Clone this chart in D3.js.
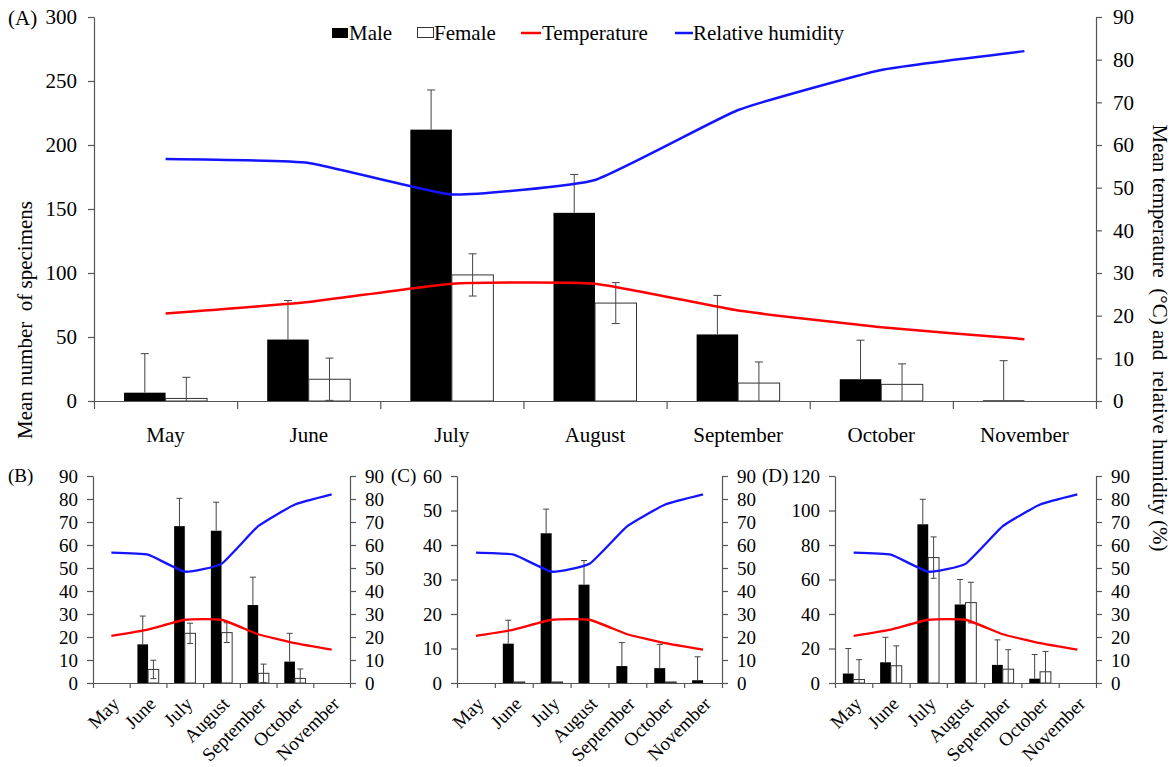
<!DOCTYPE html>
<html>
<head>
<meta charset="utf-8">
<script src="https://cdn.jsdelivr.net/npm/d3@7"></script>
<style>
  body { margin: 0; background: #fff; }
  svg text { font-family: "Liberation Serif", "Times New Roman", serif; fill: #000; }
  .axis path, .axis line { stroke: #555; stroke-width: 1.2; }
</style>
</head>
<body>
<svg id="chart" width="1176" height="767"></svg>
<script>
// months on the x axis
const months = ["May", "June", "July", "August", "September", "October", "November"];

// climate series (right axis, same in every panel)
const temperature = [20.5, 23.2, 27.5, 27.5, 21.2, 17.3, 14.5];
const humidity = [56.7, 55.8, 48.4, 51.8, 68.2, 77.6, 82.0];

// (A) all species
const maleA = [6.5, 48, 212, 147, 52, 17, 0.5];
const maleErrA = [30.5, 30.5, 31, 30, 30.5, 30.5, 31];
const femaleA = [2, 17, 98.5, 76.5, 14, 13, 0];
const femaleErrA = [16.5, 16.5, 16.5, 16, 16.5, 16, 0];

// (B)
const maleB = [0, 16.8, 68.2, 66.2, 33.9, 9.3, 0];
const maleErrB = [0, 12.3, 12.1, 12.4, 12.1, 12.3, 0];
const femaleB = [0, 5.9, 21.6, 21.9, 4.2, 2, 0];
const femaleErrB = [0, 4, 4.4, 4.3, 4, 4.1, 0];

// (C)
const maleC = [0, 11.4, 43.4, 28.5, 4.9, 4.3, 0.8];
const maleErrC = [0, 6.8, 7, 7, 6.8, 6.9, 6.8];
const femaleC = [0, 0.3, 0.3, 0, 0, 0.3, 0];
const femaleErrC = [0, 0, 0, 0, 0, 0, 0];

// (D)
const maleD = [5.5, 12, 92, 45.5, 10.5, 2.5, 0];
const maleErrD = [14.5, 14.5, 14.5, 14.5, 14.5, 14, 0];
const femaleD = [2, 10, 72.7, 46.6, 8, 6.5, 0];
const femaleErrD = [11.5, 11.5, 12, 11.8, 11.3, 11.8, 0];

const FONT = "Liberation Serif, Times New Roman, serif";
const svg = d3.select("#chart");

function drawPanel(p)
{
  const g = svg.append("g");

  const x = d3.scaleBand().domain(months).range([p.left, p.right]);
  const xIdx = d3.scaleLinear().domain([0, months.length]).range([p.left, p.right]);
  const y = d3.scaleLinear().domain([0, p.yMax]).range([p.bottom, p.top]);
  const y2 = d3.scaleLinear().domain([0, 90]).range([p.bottom, p.top]);

  const bw = x.bandwidth() * 0.29;
  const cx = (m) => x(m) + x.bandwidth() / 2;

  const rows = months.map((m, i) => ({
    m: m, male: p.male[i], maleErr: p.maleErr[i], female: p.female[i], femaleErr: p.femaleErr[i]
  }));

  // bars
  g.selectAll(".male").data(rows).join("rect")
    .attr("x", d => cx(d.m) - bw)
    .attr("y", d => y(d.male))
    .attr("width", bw)
    .attr("height", d => y(0) - y(d.male))
    .attr("fill", "#000");

  g.selectAll(".female").data(rows.filter(d => d.female > 0)).join("rect")
    .attr("x", d => cx(d.m))
    .attr("y", d => y(d.female))
    .attr("width", bw)
    .attr("height", d => y(0) - y(d.female))
    .attr("fill", "#fff")
    .attr("stroke", "#333")
    .attr("stroke-width", 1);

  // error bars (male: only the part above the black bar shows)
  const errs = [];
  rows.forEach(d => {
    if (d.maleErr > 0) errs.push({ x: cx(d.m) - bw / 2, lo: d.male, hi: d.male + d.maleErr, lowCap: false });
    if (d.femaleErr > 0) {
      const lo = Math.max(0, d.female - d.femaleErr);
      errs.push({ x: cx(d.m) + bw / 2, lo: lo, hi: d.female + d.femaleErr, lowCap: lo > 0 });
    }
  });
  const cap = p.cap;
  errs.forEach(d => {
    g.append("line").attr("x1", d.x).attr("x2", d.x)
      .attr("y1", y(d.lo)).attr("y2", y(d.hi))
      .attr("stroke", "#444").attr("stroke-width", 1);
    g.append("line").attr("x1", d.x - cap).attr("x2", d.x + cap)
      .attr("y1", y(d.hi)).attr("y2", y(d.hi))
      .attr("stroke", "#444").attr("stroke-width", 1);
    if (d.lowCap) {
      g.append("line").attr("x1", d.x - cap).attr("x2", d.x + cap)
        .attr("y1", y(d.lo)).attr("y2", y(d.lo))
        .attr("stroke", "#444").attr("stroke-width", 1);
    }
  });

  // axes
  g.append("g").attr("class", "axis")
    .attr("transform", "translate(" + p.left + ",0)")
    .call(d3.axisLeft(y).tickValues(d3.range(0, p.yMax + 1, p.yStep))
      .tickSize(6).tickSizeOuter(0).tickPadding(p.pad))
    .attr("font-family", FONT).attr("font-size", p.font);

  g.append("g").attr("class", "axis")
    .attr("transform", "translate(" + p.right + ",0)")
    .call(d3.axisRight(y2).tickValues(d3.range(0, 91, 10))
      .tickSize(6).tickSizeOuter(0).tickPadding(p.pad))
    .attr("font-family", FONT).attr("font-size", p.font);

  g.append("g").attr("class", "axis")
    .attr("transform", "translate(0," + p.bottom + ")")
    .call(d3.axisBottom(xIdx).tickValues(d3.range(0, months.length + 1))
      .tickFormat("").tickSize(p.tick).tickSizeOuter(0));

  const xl = g.append("g").attr("class", "axis")
    .attr("transform", "translate(0," + p.bottom + ")")
    .call(d3.axisBottom(x).tickSize(0).tickPadding(p.xPad))
    .attr("font-family", FONT).attr("font-size", p.xFont);
  xl.select(".domain").remove();
  if (p.rotate) {
    xl.selectAll("text")
      .attr("text-anchor", "end")
      .attr("dy", null)
      .attr("y", null)
      .attr("transform", "translate(9," + p.xPad + ") rotate(-45)");
  }

  // climate lines
  const line = d3.line()
    .x((d, i) => cx(months[i]))
    .y(d => y2(d))
    .curve(d3.curveCardinal.tension(0.6));

  g.append("path").datum(temperature)
    .attr("fill", "none").attr("stroke", "#ff0000")
    .attr("stroke-width", p.lw).attr("d", line);
  g.append("path").datum(humidity)
    .attr("fill", "none").attr("stroke", "#1414ff")
    .attr("stroke-width", p.lw).attr("d", line);

  g.append("text").attr("x", p.tagX).attr("y", p.tagY)
    .style("font-size", p.font + "px").text(p.tag);
}

drawPanel({ tag: "(A)", tagX: 8, tagY: 25, left: 94, right: 1096, top: 17, bottom: 401,
  yMax: 300, yStep: 50, male: maleA, maleErr: maleErrA, female: femaleA, femaleErr: femaleErrA,
  font: 21, xFont: 21, pad: 11, tick: 8, xPad: 26, rotate: false, lw: 2.5, cap: 4 });

drawPanel({ tag: "(B)", tagX: 8, tagY: 482, left: 93, right: 350, top: 476, bottom: 683,
  yMax: 90, yStep: 10, male: maleB, maleErr: maleErrB, female: femaleB, femaleErr: femaleErrB,
  font: 19, xFont: 19, pad: 9, tick: 5, xPad: 22, rotate: true, lw: 2.3, cap: 3 });

drawPanel({ tag: "(C)", tagX: 391, tagY: 482, left: 457, right: 722, top: 476, bottom: 683,
  yMax: 60, yStep: 10, male: maleC, maleErr: maleErrC, female: femaleC, femaleErr: femaleErrC,
  font: 19, xFont: 19, pad: 9, tick: 5, xPad: 22, rotate: true, lw: 2.3, cap: 3 });

drawPanel({ tag: "(D)", tagX: 762, tagY: 482, left: 835, right: 1096, top: 476, bottom: 683,
  yMax: 120, yStep: 20, male: maleD, maleErr: maleErrD, female: femaleD, femaleErr: femaleErrD,
  font: 19, xFont: 19, pad: 9, tick: 5, xPad: 22, rotate: true, lw: 2.3, cap: 3 });

// axis titles
svg.append("text")
  .attr("transform", "translate(32,320) rotate(-90)")
  .attr("text-anchor", "middle")
  .style("font-size", "21px").style("white-space", "pre")
  .text("Mean number  of specimens");

svg.append("text")
  .attr("transform", "translate(1153,338) rotate(90)")
  .attr("text-anchor", "middle")
  .style("font-size", "21px").style("white-space", "pre")
  .text("Mean temperature  (\u00B0C) and  relative humidity (%)");

// legend
const legend = svg.append("g").style("font-size", "21px");
legend.append("rect").attr("x", 332).attr("y", 28).attr("width", 16).attr("height", 10).attr("fill", "#000");
legend.append("text").attr("x", 349).attr("y", 40).text("Male");
legend.append("rect").attr("x", 417.5).attr("y", 27.5).attr("width", 16).attr("height", 10)
  .attr("fill", "#fff").attr("stroke", "#333").attr("stroke-width", 1);
legend.append("text").attr("x", 434).attr("y", 40).text("Female");
legend.append("line").attr("x1", 521).attr("x2", 541).attr("y1", 33).attr("y2", 33)
  .attr("stroke", "#ff0000").attr("stroke-width", 2.5);
legend.append("text").attr("x", 542).attr("y", 40).text("Temperature");
legend.append("line").attr("x1", 675).attr("x2", 693).attr("y1", 33).attr("y2", 33)
  .attr("stroke", "#1414ff").attr("stroke-width", 2.5);
legend.append("text").attr("x", 693).attr("y", 40).text("Relative humidity");
</script>
</body>
</html>
